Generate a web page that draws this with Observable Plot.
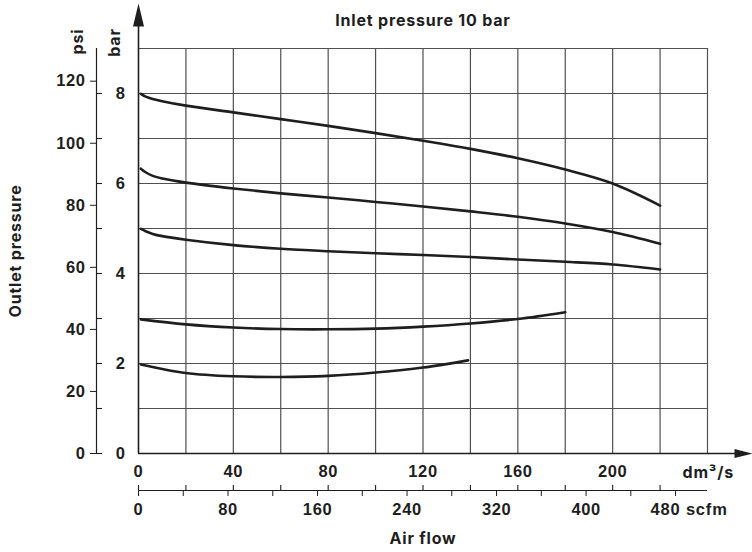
<!DOCTYPE html>
<html><head><meta charset="utf-8">
<script src="https://cdn.jsdelivr.net/npm/d3@7"></script>
<script src="https://cdn.jsdelivr.net/npm/@observablehq/plot@0.6"></script>
<style>
body{margin:0;background:#fff}
svg text{letter-spacing:0.6px}
svg g[aria-label="text"] text{letter-spacing:0.8px}
</style>
</head><body><div id="chart"></div>
<script>
// unit conversions
const SCFM_PER_DM3S = 2.11888;
const PSI_PER_BAR = 14.5038;

// curves: air flow (dm3/s) vs outlet pressure (bar)
const flow1 = [1, 3, 6, 10, 20, 40, 60, 80, 100, 120, 140, 160, 180, 200, 220];
const bar1  = [7.99, 7.93, 7.88, 7.83, 7.73, 7.58, 7.43, 7.28, 7.12, 6.95, 6.77, 6.56, 6.31, 6.00, 5.51];
const flow2 = [1, 3, 6, 10, 20, 40, 60, 80, 100, 120, 140, 160, 180, 200, 220];
const bar2  = [6.33, 6.25, 6.17, 6.11, 6.02, 5.89, 5.78, 5.69, 5.59, 5.49, 5.38, 5.26, 5.11, 4.92, 4.66];
const flow3 = [1, 3, 6, 10, 20, 40, 60, 80, 100, 120, 140, 160, 180, 200, 220];
const bar3  = [4.99, 4.94, 4.88, 4.83, 4.75, 4.63, 4.55, 4.495, 4.45, 4.41, 4.365, 4.31, 4.26, 4.20, 4.09];
const flow4 = [1, 20, 40, 60, 80, 100, 120, 140, 160, 180];
const bar4  = [2.98, 2.87, 2.80, 2.765, 2.76, 2.775, 2.82, 2.89, 2.99, 3.14];
const flow5 = [1, 20, 40, 60, 80, 100, 120, 139];
const bar5  = [1.98, 1.79, 1.715, 1.70, 1.725, 1.80, 1.91, 2.07];

// ticks and grid
const flowGrid = [20, 40, 60, 80, 100, 120, 140, 160, 180, 200, 220, 240];
const barGrid = [1, 2, 3, 4, 5, 6, 7, 8, 9];
const barTicks = [0, 2, 4, 6, 8];
const barMinor = [0, 1, 2, 3, 4, 5, 6, 7, 8];
const psiTicks = [0, 20, 40, 60, 80, 100, 120];
const flowTicks = [0, 40, 80, 120, 160, 200];
const flowMinor = [0, 20, 40, 60, 80, 100, 120, 140, 160, 180, 200, 220];
const scfmTicks = [0, 40, 80, 120, 160, 200, 240, 280, 320, 360, 400, 440, 480];
const scfmLabels = [0, 80, 160, 240, 320, 400];
const scfmLast = 480;

// texts
const title = "Inlet pressure 10 bar";
const yTitle = "Outlet pressure";
const xTitle = "Air flow";
const psiUnit = "psi";
const barUnit = "bar";
const flowUnit = "dm³/s";
const scfmUnit = "scfm";

const series = [[flow1, bar1], [flow2, bar2], [flow3, bar3], [flow4, bar4], [flow5, bar5]];
const curveData = series.flatMap(([f, b], i) => f.map((v, j) => ({id: i, flow: v, bar: b[j]})));

const ink = "#1e1e1e";
const gridInk = "#505050";
const wordFont = "Inter, 'Noto Sans', sans-serif";
const numFont = "'Liberation Sans', Arial, sans-serif";

const upArrow = {draw(ctx) { ctx.moveTo(0, -45); ctx.lineTo(5.5, -22); ctx.lineTo(-5.5, -22); ctx.closePath(); }};
const rightArrow = {draw(ctx) { ctx.moveTo(45, 0); ctx.lineTo(27, -4.5); ctx.lineTo(27, 4.5); ctx.closePath(); }};

const wordStyle = {fontFamily: wordFont, fontWeight: "bold", fontSize: 16, fill: ink, textAnchor: "middle", lineAnchor: "middle"};

const chart = Plot.plot({
  width: 752, height: 552,
  marginLeft: 138, marginRight: 45, marginTop: 48, marginBottom: 99,
  x: {domain: [0, 240], label: null},
  y: {domain: [0, 9], label: null},
  style: {fontFamily: numFont, fontWeight: "bold", fontSize: "16.5px", color: ink, background: "#fff"},
  marks: [
    Plot.gridX(flowGrid, {stroke: gridInk, strokeOpacity: 1, strokeWidth: 1.2}),
    Plot.gridY(barGrid, {stroke: gridInk, strokeOpacity: 1, strokeWidth: 1.2}),
    Plot.line(curveData, {x: "flow", y: "bar", z: "id", curve: "catmull-rom", stroke: ink, strokeWidth: 2.6}),
    // main axes with arrows
    Plot.ruleX([0], {insetTop: -24, stroke: ink, strokeWidth: 1.6}),
    Plot.ruleY([0], {insetRight: -30, stroke: ink, strokeWidth: 1.6}),
    Plot.dot([0], {frameAnchor: "top-left", symbol: upArrow, fill: ink, stroke: "none"}),
    Plot.dot([0], {frameAnchor: "bottom-right", symbol: rightArrow, fill: ink, stroke: "none"}),
    // bar axis
    Plot.axisY(barTicks, {anchor: "left", tickSize: 0, tickPadding: 13, label: null}),
    // psi axis
    Plot.ruleX([0], {dx: -42, stroke: ink, strokeWidth: 1.2}),
    Plot.axisY(psiTicks.map(p => p / PSI_PER_BAR), {anchor: "left", tickSize: 6, tickPadding: 5, dx: -42, label: null,
      tickFormat: d => Math.round(d * PSI_PER_BAR)}),
    Plot.ruleY(barMinor, {x1: 0, x2: 0, insetRight: -6, dx: -42, stroke: ink, strokeWidth: 1.1}),
    // dm3/s axis
    Plot.axisX(flowTicks, {anchor: "bottom", tickSize: 0, tickPadding: 12, label: null}),
    // scfm axis
    Plot.ruleY([0], {dy: 37, stroke: ink, strokeWidth: 1.2}),
    Plot.axisX(scfmTicks.map(s => s / SCFM_PER_DM3S), {anchor: "bottom", dy: 37, tickSize: 6, tickPadding: 7, label: null,
      tickFormat: d => { const s = Math.round(d * SCFM_PER_DM3S); return scfmLabels.includes(s) ? s : ""; }}),
    Plot.ruleX(flowMinor, {y1: 0, y2: 0, insetTop: -5, dy: 37, stroke: ink, strokeWidth: 1.1}),
    Plot.text([`${scfmLast} ${scfmUnit}`], {x: scfmLast / SCFM_PER_DM3S, frameAnchor: "bottom", textAnchor: "start", lineAnchor: "middle", dx: -25, dy: 56, fill: ink}),
    // titles
    Plot.text([title], {frameAnchor: "top", dy: -28, ...wordStyle}),
    Plot.text([yTitle], {frameAnchor: "left", dx: -123, rotate: -90, ...wordStyle}),
    Plot.text([xTitle], {frameAnchor: "bottom", dy: 85, ...wordStyle}),
    Plot.text([psiUnit], {frameAnchor: "top-left", dx: -61, dy: -7, rotate: -90, ...wordStyle}),
    Plot.text([barUnit], {frameAnchor: "top-left", dx: -24, dy: -6, rotate: -90, ...wordStyle}),
    Plot.text([flowUnit], {frameAnchor: "bottom-right", dx: -25, dy: 19, ...wordStyle, textAnchor: "start"})
  ]
});
document.getElementById("chart").append(chart);
</script>
</body></html>
